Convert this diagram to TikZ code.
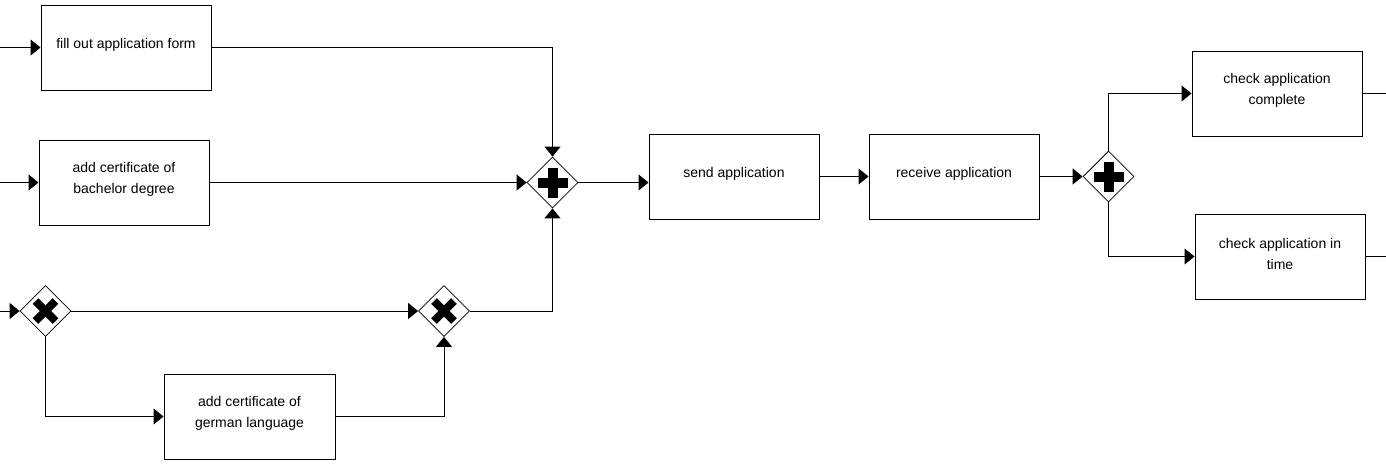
\documentclass[tikz,border=0pt]{standalone}
\usepackage{fontspec}
\setmainfont{Liberation Sans}
\usetikzlibrary{shapes.geometric,arrows.meta}

\tikzset{
  task/.style={draw=black, line width=1pt, fill=white, minimum width=170pt,
    minimum height=85pt, inner sep=0pt},
  tasktext/.style={align=center, font=\fontsize{14}{21}\selectfont, inner sep=0pt},
  gateway/.style={draw=black, line width=0.8pt, fill=white, diamond, aspect=1,
    minimum width=51pt, minimum height=51pt, inner sep=0pt},
  flow/.style={line width=1pt, -{Triangle[length=10pt,width=16pt]}},
  plainflow/.style={line width=1pt},
  plusbar/.style={fill=black, draw=none},
  crossbar/.style={line width=8pt, line cap=butt, draw=black},
}

\begin{document}
\begin{tikzpicture}[x=1pt, y=-1pt]
  \useasboundingbox (0,0) rectangle (1386,464);

  % tasks (label sits a little above the box centre)
  \node[task] (fill) at (126,47.5) {};
  \node[tasktext] at ([yshift=3pt]fill.center) {fill out application form};
  \node[task] (bach) at (124,182.5) {};
  \node[tasktext] at ([yshift=3pt]bach.center) {add certificate of\\bachelor degree};
  \node[task, minimum width=171pt] (german) at (249.5,416.5) {};
  \node[tasktext] at ([yshift=3pt]german.center) {add certificate of\\german language};
  \node[task] (send) at (734,176.5) {};
  \node[tasktext] at ([yshift=3pt]send.center) {send application};
  \node[task] (recv) at (954,176.5) {};
  \node[tasktext] at ([yshift=3pt]recv.center) {receive application};
  \node[task] (compl) at (1277,93.5) {};
  \node[tasktext] at ([yshift=3pt]compl.center) {check application\\complete};
  \node[task] (time) at (1280,256.5) {};
  \node[tasktext] at ([yshift=3pt]time.center) {check application in\\time};

  % gateways
  \node[gateway] (and1) at (552.5,182.5) {};
  \node[gateway] (and2) at (1108.5,176.5) {};
  \node[gateway] (xor1) at (45.5,311) {};
  \node[gateway] (xor2) at (444,311) {};

  % parallel markers
  \foreach \g in {and1,and2}{
    \fill[plusbar] ([xshift=-15pt,yshift=-5pt]\g.center) rectangle ([xshift=15pt,yshift=5pt]\g.center);
    \fill[plusbar] ([xshift=-5pt,yshift=-15pt]\g.center) rectangle ([xshift=5pt,yshift=15pt]\g.center);
  }
  % exclusive markers
  \foreach \g in {xor1,xor2}{
    \draw[crossbar] ([xshift=-10pt,yshift=-10pt]\g.center) -- ([xshift=10pt,yshift=10pt]\g.center);
    \draw[crossbar] ([xshift=-10pt,yshift=10pt]\g.center) -- ([xshift=10pt,yshift=-10pt]\g.center);
  }

  % loose ends
  \coordinate (in1) at (0,47.5);
  \coordinate (in2) at (0,182.5);
  \coordinate (in3) at (0,311);
  \coordinate (out1) at (1386,93.5);
  \coordinate (out2) at (1386,256.5);

  % sequence flows
  \draw[flow] (in1) -- (fill.west);
  \draw[flow] (in2) -- (bach.west);
  \draw[flow] (in3) -- (xor1.west);
  \draw[flow] (fill.east) -| (and1.north);
  \draw[flow] (bach.east) -- (and1.west);
  \draw[flow] (xor1.east) -- (xor2.west);
  \draw[flow] (xor1.south) |- (german.west);
  \draw[flow] (german.east) -| (xor2.south);
  \draw[flow] (xor2.east) -| (and1.south);
  \draw[flow] (and1.east) -- (and1.east -| send.west);
  \draw[flow] (send.east) -- (recv.west);
  \draw[flow] (recv.east) -- (and2.west);
  \draw[flow] (and2.north) |- (compl.west);
  \draw[flow] (and2.south) |- (time.west);
  \draw[plainflow] (compl.east) -- (out1);
  \draw[plainflow] (time.east) -- (out2);
\end{tikzpicture}
\end{document}
